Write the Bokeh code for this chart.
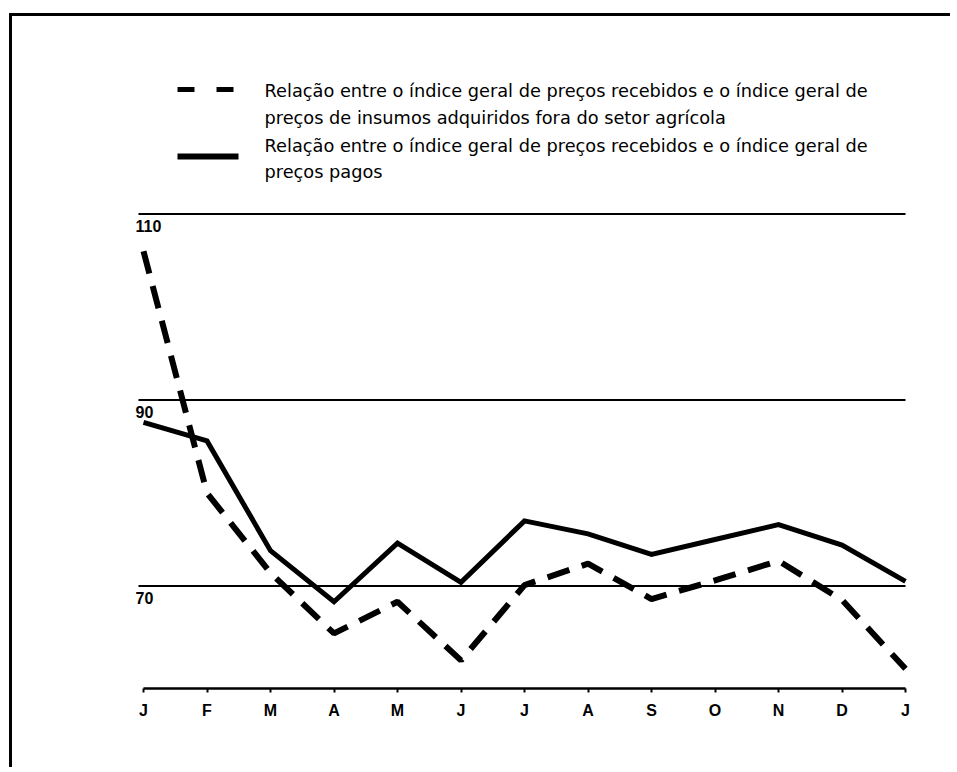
from bokeh.plotting import figure
from bokeh.models import Range1d, FixedTicker
from bokeh.core.properties import value
from bokeh.embed import file_html
from bokeh.resources import INLINE

# ---- data ----
months = ["J", "F", "M", "A", "M", "J", "J", "A", "S", "O", "N", "D", "J"]
month_pos = list(range(13))
pagos = [87.6, 85.6, 73.8, 68.3, 74.6, 70.4, 77.0, 75.6, 73.4, 75.0, 76.6, 74.4, 70.5]
insumos = [106.0, 80.0, 71.4, 64.9, 68.3, 62.0, 70.1, 72.4, 68.6, 70.6, 72.7, 68.5, 61.1]
grid_levels = [110, 90, 70]
grid_labels = ["110", "90", "70"]
legend_lines = [
    "Relação entre o índice geral de preços recebidos e o índice geral de",
    "preços de insumos adquiridos fora do setor agrícola",
    "Relação entre o índice geral de preços recebidos e o índice geral de",
    "preços pagos",
]

# ---- layout constants (page pixels) ----
W, H = 941, 754
BORDER = 3
MARGIN_L, MARGIN_T = 9, 13
OX, OY = MARGIN_L + BORDER, MARGIN_T + BORDER   # page position of canvas origin
BASELINE_PX = 688
BOTTOM_BORDER = OY + H - BASELINE_PX
X_PX0, X_PPU = 143, 63.5   # page x of first month, px per month
Y70_PX, Y_PPU = 585.5, 9.3


def px2x(px):
    return (px - X_PX0) / X_PPU


def px2y(py):
    return 70 + (Y70_PX - py) / Y_PPU


x0 = px2x(OX)
x1 = px2x(OX + W)
y1 = px2y(OY)
y0 = px2y(BASELINE_PX)

p = figure(width=W, height=H, output_backend="svg", toolbar_location=None,
           title=None, x_range=Range1d(x0, x1), y_range=Range1d(y0, y1),
           y_axis_location=None,
           min_border_left=0, min_border_right=0, min_border_top=0,
           min_border_bottom=BOTTOM_BORDER)
p.outline_line_color = None
p.grid.visible = False
p.background_fill_color = "white"
p.border_fill_color = "white"
p.styles = {
    "border-left": f"{BORDER}px solid black",
    "border-top": f"{BORDER}px solid black",
    "margin-left": f"{MARGIN_L}px",
    "margin-top": f"{MARGIN_T}px",
}

# x axis (baseline)
ax = p.xaxis[0]
ax.ticker = FixedTicker(ticks=month_pos)
ax.major_label_overrides = {i: m for i, m in zip(month_pos, months)}
ax.bounds = (0, 12)
ax.axis_line_width = 2.5
ax.axis_line_color = "black"
ax.major_tick_line_width = 2
ax.major_tick_out = 4
ax.major_tick_in = 0
ax.minor_tick_out = 0
ax.minor_tick_in = 0
ax.major_label_standoff = 9
ax.major_label_text_font = "Liberation Sans"
ax.major_label_text_font_style = "bold"
ax.major_label_text_font_size = "16px"
ax.major_label_text_color = "black"

# horizontal reference lines
p.segment(x0=[px2x(138)] * len(grid_levels), x1=[12] * len(grid_levels),
          y0=grid_levels, y1=grid_levels, line_color="black", line_width=2)
p.text(x=[px2x(135)] * len(grid_levels), y=[v - 6 / Y_PPU for v in grid_levels],
       text=grid_labels, text_baseline="top", text_align="left",
       text_font=value("Liberation Sans"), text_font_style="bold",
       text_font_size="16px", text_color="black")

# data lines
p.line(month_pos, insumos, line_color="black", line_width=6, line_dash="23 13")
p.line(month_pos, pagos, line_color="black", line_width=5, line_join="miter")

# legend
p.line([px2x(177), px2x(238)], [px2y(89)] * 2, line_color="black",
       line_width=5, line_dash="17 22")
p.line([px2x(177), px2x(238)], [px2y(156)] * 2, line_color="black",
       line_width=6)
baselines = [90.5, 117, 145, 171.5]
p.text(x=[px2x(264)] * 4, y=[px2y(b) for b in baselines], text=legend_lines,
       text_baseline="alphabetic", text_align="left",
       text_font=value("DejaVu Sans"), text_font_size="17.75px", text_color="black")

open("out.html", "w").write(file_html(p, INLINE))
